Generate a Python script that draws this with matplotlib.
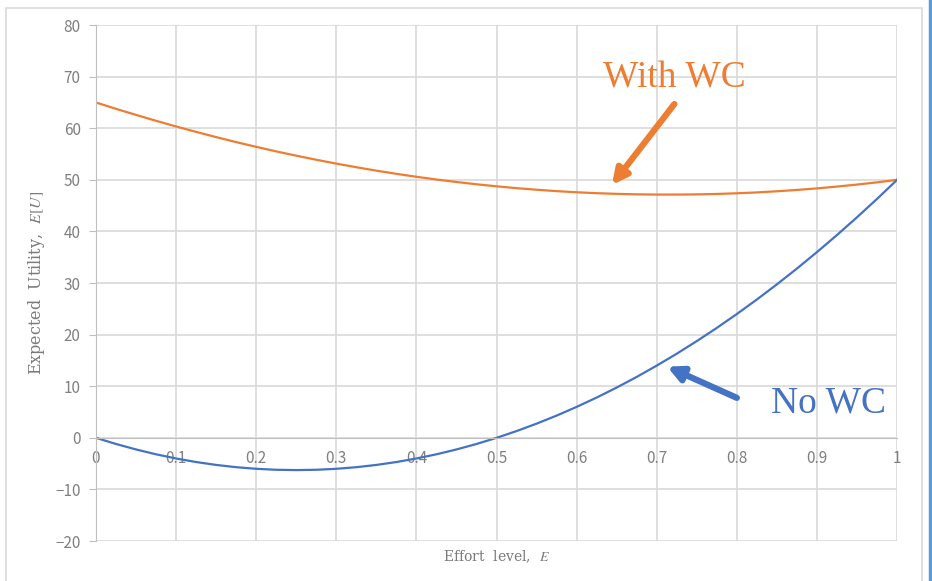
import matplotlib.pyplot as plt
from matplotlib.patches import Rectangle
from matplotlib.lines import Line2D

# effort levels and expected utility for the two cases
effort = [0.0, 0.025, 0.05, 0.075, 0.1, 0.125, 0.15, 0.175, 0.2, 0.225, 0.25,
          0.275, 0.3, 0.325, 0.35, 0.375, 0.4, 0.425, 0.45, 0.475, 0.5,
          0.525, 0.55, 0.575, 0.6, 0.625, 0.65, 0.675, 0.7, 0.725, 0.75,
          0.775, 0.8, 0.825, 0.85, 0.875, 0.9, 0.925, 0.95, 0.975, 1.0]
utility_with_wc = [65.0, 63.77, 62.59, 61.45, 60.35, 59.3, 58.29, 57.32, 56.4, 55.52, 54.69,
                   53.9, 53.15, 52.45, 51.79, 51.17, 50.6, 50.07, 49.59, 49.15, 48.75,
                   48.4, 48.09, 47.82, 47.6, 47.42, 47.29, 47.2, 47.15, 47.15, 47.19,
                   47.27, 47.4, 47.57, 47.79, 48.05, 48.35, 48.7, 49.09, 49.52, 50.0]
utility_no_wc = [0.0, -1.19, -2.25, -3.19, -4.0, -4.69, -5.25, -5.69, -6.0, -6.19, -6.25,
                 -6.19, -6.0, -5.69, -5.25, -4.69, -4.0, -3.19, -2.25, -1.19, 0.0,
                 1.31, 2.75, 4.31, 6.0, 7.81, 9.75, 11.81, 14.0, 16.31, 18.75,
                 21.31, 24.0, 26.81, 29.75, 32.81, 36.0, 39.31, 42.75, 46.31, 50.0]

x_ticks = [0, 0.1, 0.2, 0.3, 0.4, 0.5, 0.6, 0.7, 0.8, 0.9, 1]
x_tick_labels = ['0', '0.1', '0.2', '0.3', '0.4', '0.5', '0.6', '0.7', '0.8', '0.9', '1']
y_ticks = [-20, -10, 0, 10, 20, 30, 40, 50, 60, 70, 80]

orange = '#ED7D31'
blue = '#4472C4'
grid_grey = '#d9d9d9'
text_grey = '#808080'

plt.rcParams['mathtext.fontset'] = 'stix'

fig = plt.figure(figsize=(9.32, 5.81), dpi=100)
ax = fig.add_axes([0.103, 0.0688, 0.8595, 0.888])

ax.plot(effort, utility_with_wc, color=orange, linewidth=1.6)
ax.plot(effort, utility_no_wc, color=blue, linewidth=1.6)

ax.set_xlim(0, 1)
ax.set_ylim(-20, 80)
ax.set_xticks(x_ticks)
ax.set_xticklabels(x_tick_labels)
ax.set_yticks(y_ticks)
ax.grid(True, color=grid_grey, linewidth=1.2)
ax.set_axisbelow(True)

# category axis crosses at zero like the spreadsheet chart
ax.spines['bottom'].set_position(('data', 0))
ax.spines['bottom'].set_color('#bfbfbf')
ax.spines['left'].set_color('#bfbfbf')
ax.spines['top'].set_visible(False)
ax.spines['right'].set_visible(False)
ax.tick_params(axis='y', colors='#bfbfbf', labelcolor=text_grey, length=5, pad=6,
               labelsize=11)
ax.tick_params(axis='x', colors='#bfbfbf', labelcolor=text_grey, length=0, pad=9,
               labelsize=11)
for lab in ax.get_xticklabels() + ax.get_yticklabels():
    lab.set_family('Noto Sans CJK JP')

ax.set_xlabel('Effort  level,  $E$', family='DejaVu Serif', fontsize=10,
              color='#7a7a7a')
ax.xaxis.set_label_coords(0.5, -0.015)
ax.set_ylabel('Expected  Utility,  $E[U]$', family='DejaVu Serif', fontsize=11.5,
              color='#7a7a7a', labelpad=6)

ax.text(0.7223, 68.0, 'With WC', color=orange, family='Liberation Serif',
        fontsize=27, ha='center', va='baseline')
ax.annotate('', xy=(0.644, 49.0), xytext=(0.722, 64.7),
            arrowprops=dict(arrowstyle='-|>,head_length=0.9,head_width=0.45',
                            color=orange, lw=4.5, shrinkA=0, shrinkB=0))

ax.text(0.914, 5.0, 'No WC', color=blue, family='Liberation Serif',
        fontsize=27, ha='center', va='baseline')
ax.annotate('', xy=(0.713, 13.8), xytext=(0.800, 7.75),
            arrowprops=dict(arrowstyle='-|>,head_length=0.9,head_width=0.45',
                            color=blue, lw=4.5, shrinkA=0, shrinkB=0))

# chart area border and selection edge
fig.patches.append(Rectangle((6 / 932, -0.05), 916 / 932, 1.05 - 8 / 581,
                             transform=fig.transFigure, fill=False,
                             edgecolor=grid_grey, linewidth=1.2))
fig.lines.append(Line2D([930 / 932, 930 / 932], [0, 1], transform=fig.transFigure,
                        color='#5B9BD5', linewidth=2.5))

fig.savefig('out.png', dpi=100)
